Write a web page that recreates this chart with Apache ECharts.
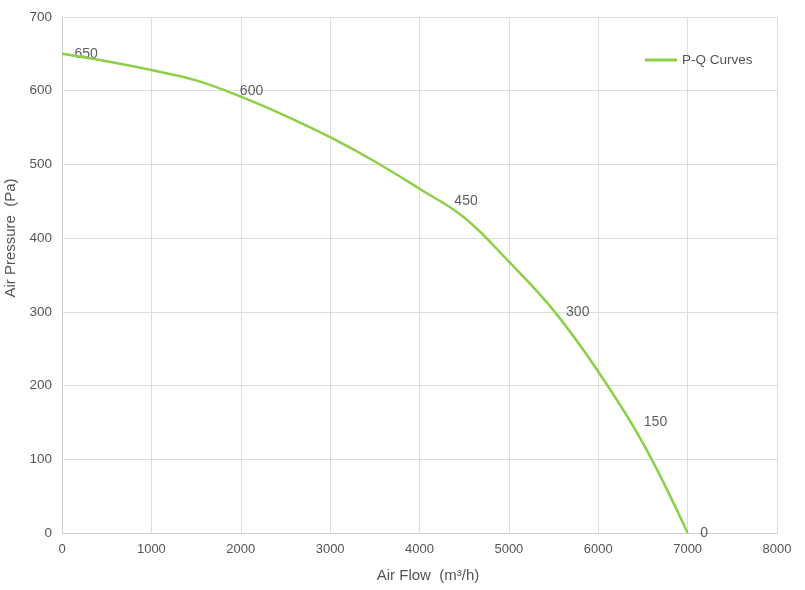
<!DOCTYPE html>
<html>
<head>
<meta charset="utf-8">
<script src="https://cdn.jsdelivr.net/npm/echarts@6/dist/echarts.min.js"></script>
<style>html,body{margin:0;padding:0;background:#fff;}#c{width:805px;height:590px;}</style>
</head>
<body>
<div id="c"></div>
<script>
// Curve samples
const flow     = [0, 500, 1000, 1500, 2000, 2500, 3000, 3500, 4000, 4500, 5000, 5500, 6000, 6500, 7000];
const pressure = [650, 640, 628, 614, 592, 566, 537, 504, 467, 428, 368, 302, 219, 122, 0];
// Labelled points on the curve
const labelFlow     = [0, 1850, 4250, 5500, 6370, 7000];
const labelPressure = [650, 600, 450, 300, 150, 0];
const xTicks = [0, 1000, 2000, 3000, 4000, 5000, 6000, 7000, 8000];
const yTicks = [0, 100, 200, 300, 400, 500, 600, 700];
const seriesName = 'P-Q Curves';

const font = 'Helvetica, Arial, "Liberation Sans", sans-serif';
const chart = echarts.init(document.getElementById('c'));
chart.setOption({
  animation: false,
  textStyle: { fontFamily: font },
  grid: { left: 62, right: 28, top: 17, bottom: 57, containLabel: false, outerBoundsMode: 'none' },
  legend: {
    data: [{ name: seriesName, icon: 'rect' }],
    left: 640, top: 48,
    itemWidth: 32, itemHeight: 3, itemGap: 5,
    textStyle: { fontSize: 13.5, color: '#555', fontFamily: font }
  },
  xAxis: {
    type: 'value', min: xTicks[0], max: xTicks[xTicks.length - 1], interval: 1000,
    name: 'Air Flow  (m³/h)', nameLocation: 'middle', nameGap: 35,
    nameTextStyle: { fontSize: 15, color: '#555', fontFamily: font, padding: [0, 0, 0, 17] },
    axisLine: { show: true, lineStyle: { color: '#cfcfcf' } },
    axisTick: { show: false },
    axisLabel: { fontSize: 13, color: '#555', margin: 10, formatter: v => String(v) },
    splitLine: { show: true, lineStyle: { color: '#dcdcdc' } }
  },
  yAxis: {
    type: 'value', min: yTicks[0], max: yTicks[yTicks.length - 1], interval: 100,
    name: 'Air Pressure  (Pa)', nameLocation: 'middle', nameGap: 41,
    nameTextStyle: { fontSize: 15, color: '#555', fontFamily: font, padding: [0, 0, 0, 74] },
    axisLine: { show: true, lineStyle: { color: '#cfcfcf' } },
    axisTick: { show: false },
    axisLabel: { fontSize: 13.5, color: '#555', margin: 10, formatter: v => String(v) },
    splitLine: { show: true, lineStyle: { color: '#dcdcdc' } }
  },
  series: [
    {
      name: seriesName, type: 'line', smooth: 0.4,
      showSymbol: false, symbol: 'none',
      lineStyle: { color: '#8ccf48', width: 2.5 },
      itemStyle: { color: '#8ccf48' },
      data: flow.map((x, i) => [x, pressure[i]])
    },
    {
      name: 'labels', type: 'scatter', symbolSize: 1,
      itemStyle: { color: 'rgba(0,0,0,0)' },
      label: { show: true, position: 'right', distance: 12, fontSize: 14, color: '#333',
               formatter: p => String(p.value[1]) },
      silent: true,
      data: labelFlow.map((x, i) => [x, labelPressure[i]])
    }
  ]
});
</script>
</body>
</html>
